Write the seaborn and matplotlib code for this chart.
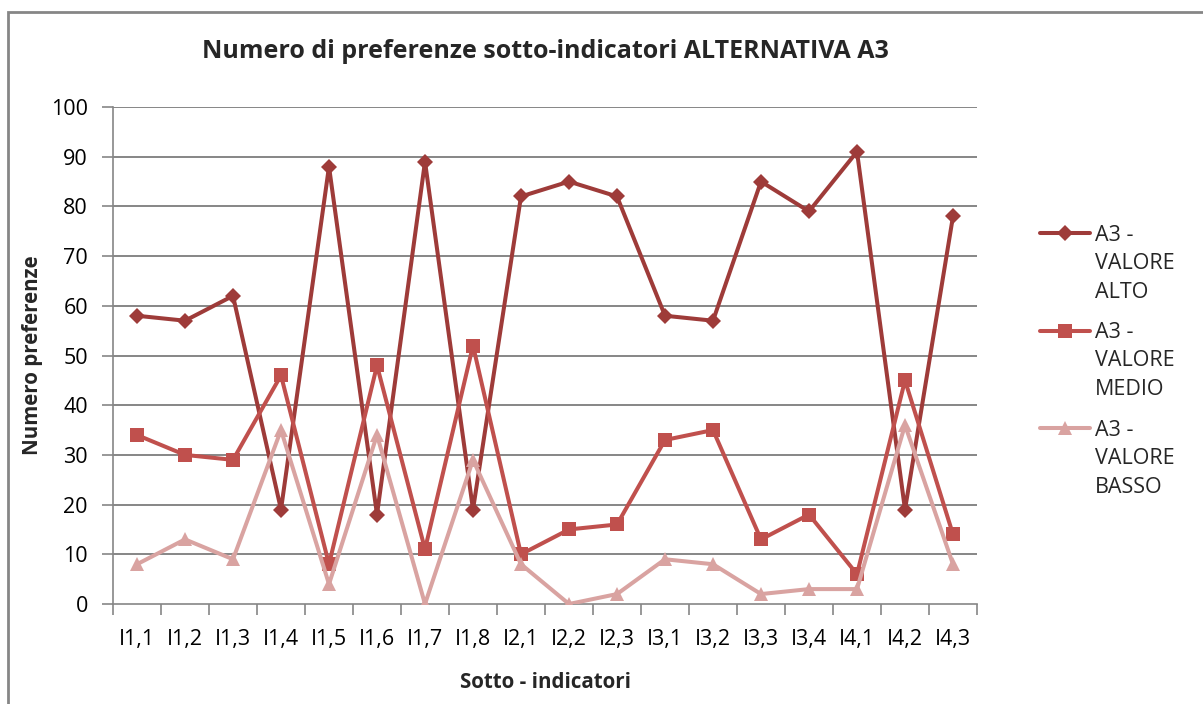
import numpy as np
import pandas as pd
import matplotlib
matplotlib.use("Agg")
import matplotlib.pyplot as plt
from matplotlib.patches import Rectangle
import seaborn as sns

categories = ["I1,1", "I1,2", "I1,3", "I1,4", "I1,5", "I1,6", "I1,7", "I1,8",
              "I2,1", "I2,2", "I2,3", "I3,1", "I3,2", "I3,3", "I3,4", "I4,1",
              "I4,2", "I4,3"]
valore_alto = [58, 57, 62, 19, 88, 18, 89, 19, 82, 85, 82, 58, 57, 85, 79, 91, 19, 78]
valore_medio = [34, 30, 29, 46, 8, 48, 11, 52, 10, 15, 16, 33, 35, 13, 18, 6, 45, 14]
valore_basso = [8, 13, 9, 35, 4, 34, 0, 29, 8, 0, 2, 9, 8, 2, 3, 3, 36, 8]
series_names = ["A3 - VALORE ALTO", "A3 - VALORE MEDIO", "A3 - VALORE BASSO"]
legend_first = ["A3 -", "A3 -", "A3 -"]
legend_rest = ["VALORE\nALTO", "VALORE\nMEDIO", "VALORE\nBASSO"]

sns.set_style("white")
plt.rcParams["font.family"] = ["Open Sans", "DejaVu Sans"]

df = pd.DataFrame({
    "cat": categories * 3,
    "val": valore_alto + valore_medio + valore_basso,
    "serie": np.repeat(series_names, len(categories)),
})
df["pos"] = df.groupby("serie").cumcount()

colors = {"A3 - VALORE ALTO": "#9E3B39",
          "A3 - VALORE MEDIO": "#C0504D",
          "A3 - VALORE BASSO": "#D9A3A1"}
markers = {"A3 - VALORE ALTO": "D",
           "A3 - VALORE MEDIO": "s",
           "A3 - VALORE BASSO": "^"}
msizes = {"A3 - VALORE ALTO": 8, "A3 - VALORE MEDIO": 10, "A3 - VALORE BASSO": 10}

W, H = 1203, 704
fig = plt.figure(figsize=(W / 100, H / 100), dpi=100)
ax = fig.add_axes([113 / W, 1 - 604 / H, (977 - 113) / W, (604 - 107) / H])

for s in series_names:
    sub = df[df["serie"] == s]
    sns.lineplot(data=sub, x="pos", y="val", ax=ax, color=colors[s], linewidth=2.9,
                 marker=markers[s], markersize=msizes[s], markeredgewidth=0,
                 label=s, zorder=3)

grid_c = "#868686"
ax.set_xlim(-0.5, len(categories) - 0.5)
ax.set_ylim(0, 100)
ax.set_yticks(range(0, 101, 10))
for y in range(10, 101, 10):
    ax.axhline(y, color=grid_c, lw=1.4, zorder=1)
ax.set_xticks(np.arange(len(categories)))
ax.set_xticklabels(categories)
ax.set_xticks(np.arange(-0.5, len(categories)), minor=True)
ax.tick_params(axis="x", which="major", length=0, pad=18, labelsize=15.5, colors="black")
ax.tick_params(axis="x", which="minor", length=8, width=1.2, color=grid_c, direction="out", bottom=True)
ax.tick_params(axis="y", length=8, width=1.2, color=grid_c, direction="out", left=True, pad=10,
               labelsize=15.5, colors="black")
for side in ["top", "right"]:
    ax.spines[side].set_visible(False)
for side in ["left", "bottom"]:
    ax.spines[side].set_color(grid_c)
    ax.spines[side].set_linewidth(1.2)

ax.set_xlabel("Sotto - indicatori", fontsize=14.8, fontweight="bold", labelpad=16)
ax.set_ylabel("Numero preferenze", fontsize=14.8, fontweight="bold", labelpad=6)
fig.text(545 / W, 1 - 52 / H, "Numero di preferenze sotto-indicatori ALTERNATIVA A3",
         ha="center", va="center", fontsize=18, fontweight="bold")

# legend: handle next to the first line, the rest of the label below it
handles, _ = ax.get_legend_handles_labels()
leg_fs = 15.5
leg = ax.legend(handles, legend_first, loc="upper left",
                bbox_to_anchor=(1040 / W, 1 - 225 / H), bbox_transform=fig.transFigure,
                frameon=False, fontsize=leg_fs, handlelength=2.3, handletextpad=0.25,
                labelspacing=3.55, borderpad=0, borderaxespad=0)

fig.canvas.draw()
inv = fig.transFigure.inverted()
for t, rest in zip(leg.get_texts(), legend_rest):
    bb = t.get_window_extent()
    x0, y0 = inv.transform((bb.x0, bb.y0))
    fig.text(x0, y0 - 7 / H, rest, ha="left", va="top", fontsize=leg_fs, linespacing=1.5)

fig.patches.append(Rectangle((8 / W, -0.1), 1.2, 1 - 12 / H + 0.1, transform=fig.transFigure,
                             fill=False, edgecolor="#868686", lw=2))

fig.savefig("out.png", dpi=100)
